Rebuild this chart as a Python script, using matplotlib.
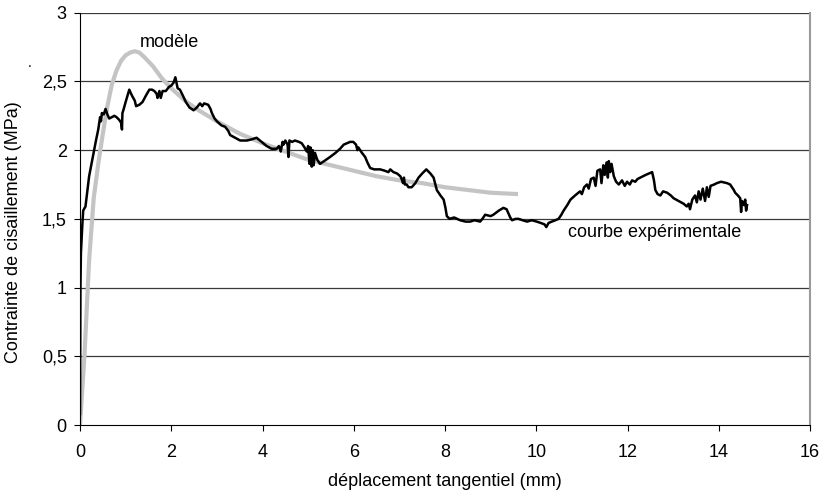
import matplotlib
matplotlib.use("Agg")
import matplotlib.pyplot as plt
from matplotlib.ticker import FuncFormatter

plt.rcParams['font.family'] = ['Liberation Sans', 'DejaVu Sans']

# Model curve (gray)
model_x = [0.0, 0.1, 0.2, 0.3, 0.4, 0.5, 0.6, 0.7, 0.8, 0.9, 1.0, 1.1, 1.2, 1.3, 1.4,
           1.6, 1.8, 2.0, 2.3, 2.6, 3.0, 3.5, 4.0, 4.5, 5.0, 5.5, 6.0, 6.5, 7.0, 7.5,
           8.0, 8.5, 9.0, 9.6]
model_y = [0.0, 0.52, 1.2, 1.65, 1.9, 2.12, 2.32, 2.48, 2.58, 2.65, 2.69, 2.71, 2.72, 2.71, 2.68,
           2.61, 2.52, 2.45, 2.36, 2.29, 2.21, 2.12, 2.05, 1.99, 1.93, 1.89, 1.85, 1.81, 1.78, 1.76,
           1.73, 1.71, 1.69, 1.68]

# Experimental curve (black)
exp_x = [0.0, 0.005, 0.01, 0.02, 0.05, 0.07, 0.12, 0.16, 0.20, 0.24, 0.28, 0.32, 0.35, 0.40,
         0.44, 0.46, 0.48, 0.52, 0.56, 0.60, 0.64, 0.70, 0.75, 0.80, 0.86, 0.90, 0.92, 0.93,
         0.95, 1.00, 1.08, 1.12, 1.15, 1.20, 1.23, 1.30, 1.37, 1.45, 1.52, 1.58, 1.63, 1.68,
         1.70, 1.74, 1.77, 1.81, 1.88, 1.95, 2.00, 2.05, 2.09, 2.14, 2.19, 2.25, 2.32, 2.40,
         2.49, 2.56, 2.63, 2.68, 2.72, 2.81, 2.86, 2.89, 2.95, 3.00, 3.10, 3.18, 3.25, 3.29,
         3.40, 3.51, 3.66, 3.78, 3.87, 3.98, 4.09, 4.20, 4.31, 4.36, 4.40, 4.44, 4.46, 4.50,
         4.55, 4.57, 4.59, 4.65, 4.71, 4.80, 4.86, 4.92, 4.97, 5.00, 5.03, 5.05, 5.08, 5.10,
         5.12, 5.15, 5.20, 5.26, 5.35, 5.48, 5.60, 5.70, 5.78, 5.85, 5.92, 5.99, 6.05, 6.08,
         6.10, 6.18, 6.25, 6.30, 6.36, 6.45, 6.58, 6.68, 6.76, 6.80, 6.87, 6.95, 7.02, 7.05,
         7.08, 7.10, 7.12, 7.16, 7.20, 7.27, 7.35, 7.42, 7.50, 7.59, 7.68, 7.75, 7.78, 7.82,
         7.90, 7.97, 8.01, 8.04, 8.10, 8.20, 8.33, 8.45, 8.55, 8.65, 8.77, 8.82, 8.88, 9.00,
         9.06, 9.18, 9.28, 9.35, 9.39, 9.43, 9.47, 9.55, 9.61, 9.70, 9.80, 9.90, 10.01, 10.10,
         10.18, 10.22, 10.27, 10.34, 10.42, 10.49, 10.55, 10.60, 10.68, 10.75, 10.85, 10.96,
         11.00, 11.05, 11.11, 11.15, 11.20, 11.26, 11.30, 11.34, 11.40, 11.43, 11.47, 11.50,
         11.54, 11.57, 11.59, 11.62, 11.65, 11.70, 11.75, 11.81, 11.88, 11.94, 11.99, 12.05,
         12.10, 12.17, 12.22, 12.28, 12.40, 12.54, 12.58, 12.61, 12.66, 12.72, 12.78, 12.87,
         12.95, 13.01, 13.12, 13.23, 13.30, 13.34, 13.37, 13.42, 13.48, 13.52, 13.56, 13.60,
         13.65, 13.70, 13.74, 13.78, 13.82, 13.90, 13.96, 14.05, 14.18, 14.25, 14.29, 14.33,
         14.36, 14.42, 14.47, 14.49, 14.51, 14.55, 14.58, 14.60, 14.62]
exp_y = [0.08, 0.60, 1.00, 1.25, 1.45, 1.56, 1.59, 1.70, 1.81, 1.88, 1.95, 2.02, 2.07, 2.15,
         2.24, 2.21, 2.27, 2.26, 2.30, 2.26, 2.23, 2.24, 2.25, 2.24, 2.22, 2.20, 2.15, 2.27,
         2.29, 2.35, 2.44, 2.41, 2.39, 2.36, 2.32, 2.33, 2.35, 2.40, 2.44, 2.44, 2.43, 2.41,
         2.38, 2.43, 2.38, 2.43, 2.43, 2.46, 2.47, 2.49, 2.53, 2.45, 2.44, 2.40, 2.35, 2.31,
         2.29, 2.31, 2.34, 2.32, 2.34, 2.33, 2.30, 2.27, 2.23, 2.21, 2.18, 2.17, 2.14, 2.11,
         2.09, 2.07, 2.07, 2.08, 2.09, 2.06, 2.03, 2.01, 2.01, 2.03, 1.99, 2.06, 2.04, 2.07,
         2.04, 1.95, 2.07, 2.06, 2.07, 2.06, 2.05, 2.02, 1.99, 2.03, 1.90, 2.02, 1.88, 2.00,
         1.89, 1.98, 1.93, 1.90, 1.92, 1.95, 1.98, 2.01, 2.04, 2.05, 2.06, 2.06, 2.04, 2.00,
         2.02, 1.98, 1.95, 1.91, 1.87, 1.86, 1.86, 1.85, 1.84, 1.86, 1.84, 1.83, 1.81, 1.79,
         1.76, 1.80, 1.75, 1.75, 1.73, 1.73, 1.76, 1.80, 1.83, 1.86, 1.83, 1.80, 1.76, 1.71,
         1.67, 1.64, 1.58, 1.52, 1.50, 1.51, 1.49, 1.48, 1.48, 1.49, 1.48, 1.50, 1.53, 1.52,
         1.53, 1.56, 1.58, 1.57, 1.54, 1.51, 1.49, 1.50, 1.50, 1.49, 1.48, 1.49, 1.48, 1.47,
         1.46, 1.44, 1.47, 1.48, 1.49, 1.50, 1.53, 1.56, 1.60, 1.64, 1.67, 1.70,
         1.68, 1.73, 1.75, 1.72, 1.79, 1.80, 1.74, 1.85, 1.86, 1.76, 1.89, 1.82,
         1.91, 1.80, 1.92, 1.84, 1.90, 1.81, 1.77, 1.75, 1.78, 1.74, 1.77, 1.75,
         1.78, 1.77, 1.79, 1.80, 1.82, 1.84, 1.78, 1.71, 1.68, 1.67, 1.70, 1.69,
         1.67, 1.65, 1.63, 1.61, 1.59, 1.61, 1.57, 1.64, 1.67, 1.62, 1.70, 1.64,
         1.72, 1.63, 1.73, 1.66, 1.74, 1.75, 1.76, 1.77, 1.76, 1.75, 1.73, 1.71,
         1.69, 1.67, 1.65, 1.55, 1.63, 1.60, 1.64, 1.56, 1.60]

x_ticks = [0, 2, 4, 6, 8, 10, 12, 14, 16]
y_ticks = [0, 0.5, 1, 1.5, 2, 2.5, 3]

FS = 13

fig = plt.figure(figsize=(8.22, 4.97), dpi=100)
ax = fig.add_axes([80/822, 1-425/497, 730/822, (425-12.7)/497])

for yv in y_ticks[1:]:
    ax.axhline(yv, color='#3a3a3a', lw=0.9, zorder=1)

ax.plot(model_x, model_y, color='#c4c4c4', lw=3.0, solid_capstyle='butt', zorder=2)
ax.plot(exp_x, exp_y, color='black', lw=1.8, zorder=3)

ax.set_xlim(0, 16)
ax.set_ylim(0, 3)
ax.set_xticks(x_ticks)
ax.set_yticks(y_ticks)

fmt = FuncFormatter(lambda v, p: ('%g' % v).replace('.', ','))
ax.xaxis.set_major_formatter(fmt)
ax.yaxis.set_major_formatter(fmt)
ax.tick_params(axis='both', direction='out', length=4.5, width=0.8, labelsize=FS, colors='black')
ax.tick_params(axis='x', pad=9)
ax.tick_params(axis='y', pad=5)

ax.spines['left'].set_color('black')
ax.spines['bottom'].set_color('black')
ax.spines['top'].set_visible(False)
ax.spines['right'].set_color('#9a9a9a')
ax.spines['right'].set_linewidth(1.5)

fig.text(445/822, 1-481/497, 'déplacement tangentiel (mm)', fontsize=FS, ha='center', va='center')
fig.text(14/822, 1-232/497, 'Contrainte de cisaillement (MPa)', fontsize=FS, ha='center',
         va='center', rotation=90)

ax.text(1.97, 2.78, 'modèle', fontsize=FS, ha='center', va='center')
ax.text(12.59, 1.40, 'courbe expérimentale', fontsize=FS, ha='center', va='center')
fig.text(30/822, 1-63/497, '.', fontsize=10, ha='center', va='center')

fig.savefig('out.png', dpi=100)
